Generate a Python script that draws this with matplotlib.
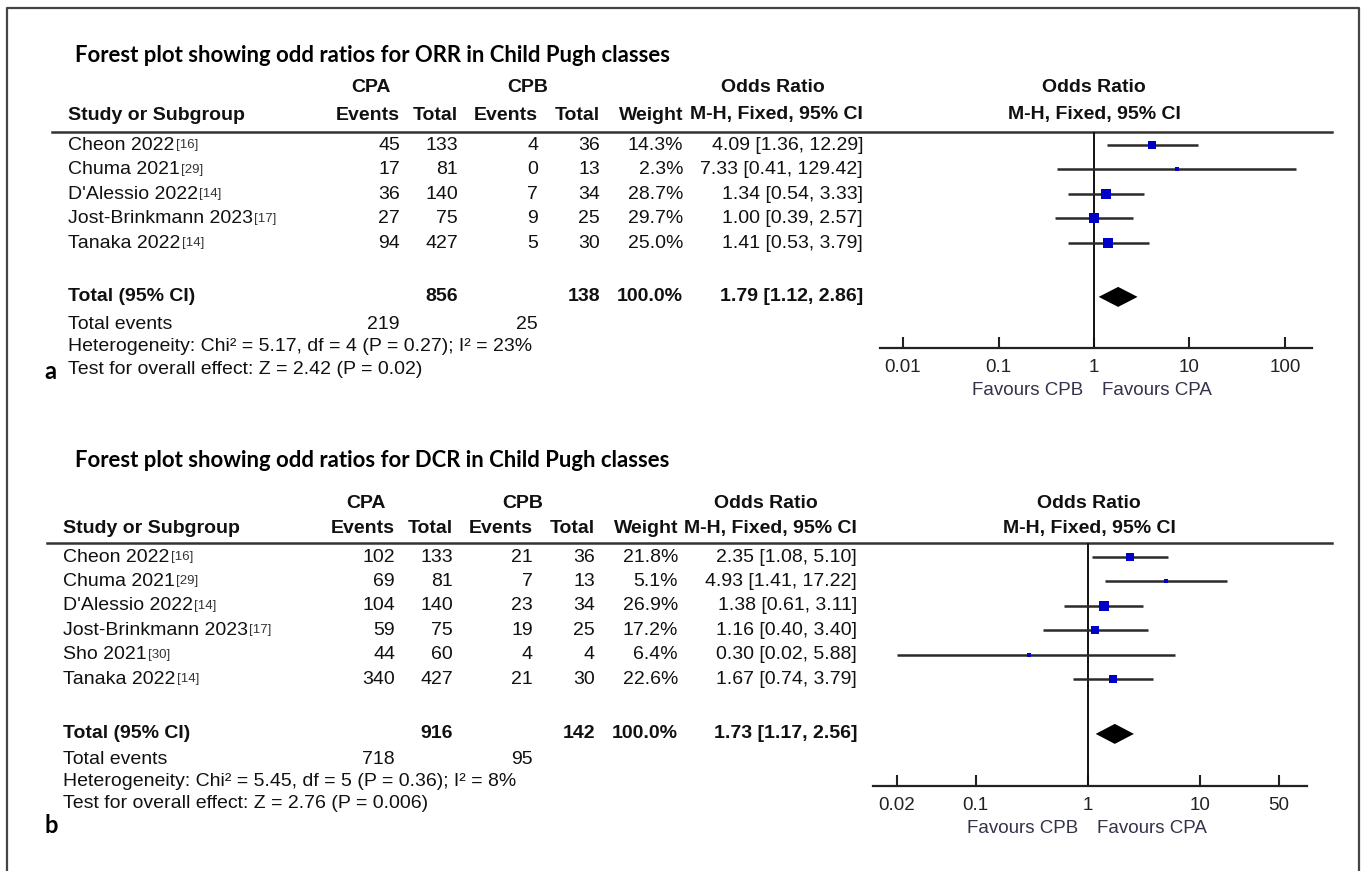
import numpy as np
import matplotlib
matplotlib.use('Agg')
import matplotlib.pyplot as plt
from matplotlib.ticker import NullLocator

W, H = 1365, 871
TXT = 'Liberation Sans'
TTL = 'Lato'

# ---------------- panel a : ORR ----------------
a_names = ['Cheon 2022', 'Chuma 2021', "D'Alessio 2022", 'Jost-Brinkmann 2023', 'Tanaka 2022']
a_refs = ['[16]', '[29]', '[14]', '[17]', '[14]']
a_cpa_ev = [45, 17, 36, 27, 94]
a_cpa_n = [133, 81, 140, 75, 427]
a_cpb_ev = [4, 0, 7, 9, 5]
a_cpb_n = [36, 13, 34, 25, 30]
a_weight = [14.3, 2.3, 28.7, 29.7, 25.0]
a_or = [4.09, 7.33, 1.34, 1.00, 1.41]
a_lo = [1.36, 0.41, 0.54, 0.39, 0.53]
a_hi = [12.29, 129.42, 3.33, 2.57, 3.79]
a_tot_n = [856, 138]
a_tot_ev = [219, 25]
a_pooled = [1.79, 1.12, 2.86]
a_het = 'Heterogeneity: Chi\u00b2 = 5.17, df = 4 (P = 0.27); I\u00b2 = 23%'
a_test = 'Test for overall effect: Z = 2.42 (P = 0.02)'
a_ticks = [0.01, 0.1, 1, 10, 100]
a_ticklabels = ['0.01', '0.1', '1', '10', '100']

# ---------------- panel b : DCR ----------------
b_names = ['Cheon 2022', 'Chuma 2021', "D'Alessio 2022", 'Jost-Brinkmann 2023', 'Sho 2021', 'Tanaka 2022']
b_refs = ['[16]', '[29]', '[14]', '[17]', '[30]', '[14]']
b_cpa_ev = [102, 69, 104, 59, 44, 340]
b_cpa_n = [133, 81, 140, 75, 60, 427]
b_cpb_ev = [21, 7, 23, 19, 4, 21]
b_cpb_n = [36, 13, 34, 25, 4, 30]
b_weight = [21.8, 5.1, 26.9, 17.2, 6.4, 22.6]
b_or = [2.35, 4.93, 1.38, 1.16, 0.30, 1.67]
b_lo = [1.08, 1.41, 0.61, 0.40, 0.02, 0.74]
b_hi = [5.10, 17.22, 3.11, 3.40, 5.88, 3.79]
b_tot_n = [916, 142]
b_tot_ev = [718, 95]
b_pooled = [1.73, 1.17, 2.56]
b_het = 'Heterogeneity: Chi\u00b2 = 5.45, df = 5 (P = 0.36); I\u00b2 = 8%'
b_test = 'Test for overall effect: Z = 2.76 (P = 0.006)'
b_ticks = [0.02, 0.1, 1, 10, 50]
b_ticklabels = ['0.02', '0.1', '1', '10', '50']

fig = plt.figure(figsize=(W / 100, H / 100), dpi=100)
bg = fig.add_axes([0, 0, 1, 1])
bg.set_xlim(0, W)
bg.set_ylim(H, 0)
bg.axis('off')

# outer frame
bg.plot([7, 7, 1359, 1359], [871, 8, 8, 871], color='#444444', lw=1.6)

FS = 14


def panel(title, letter, names, refs, ev1, n1, ev2, n2, weight, est, lo, hi,
          tot_n, tot_ev, pooled, het, test, ticks, ticklabels,
          top, row0, dy, total_row, dx, box, lg, sq, or_right, or_center):
    # box = (x0, x1, y_top, y_axis) in pixels; lg = (log10 left, log10 right)
    t_y = lambda r: row0 + r * dy
    bg.text(75, top, title, fontsize=15.9, fontweight='bold', family=TTL, va='center')
    h1 = top + 33 if letter == 'a' else top + 43
    h2 = h1 + 27 if letter == 'a' else h1 + 25
    kw = dict(fontsize=FS, family=TXT, va='center', color='#111111')
    bw = dict(kw, fontweight='bold')
    bg.text(371 + dx, h1, 'CPA', ha='center', **bw)
    bg.text(528 + dx, h1, 'CPB', ha='center', **bw)
    bg.text(or_center, h1, 'Odds Ratio', ha='center', **bw)
    bg.text(1094 + dx, h1, 'Odds Ratio', ha='center', **bw)
    bg.text(68 + dx, h2, 'Study or Subgroup', ha='left', **bw)
    cols = [400 + dx, 458 + dx, 538 + dx, 600 + dx, 683 + dx]
    for x, s in zip(cols, ['Events', 'Total', 'Events', 'Total', 'Weight']):
        bg.text(x, h2, s, ha='right', **bw)
    bg.text(or_right, h2, 'M-H, Fixed, 95% CI', ha='right', **bw)
    bg.text(1094 + dx, h2, 'M-H, Fixed, 95% CI', ha='center', **bw)
    line_y = box[2]
    bg.plot([52 + dx, 1332], [line_y, line_y], color='#333333', lw=1.8)

    for i in range(len(names)):
        y = t_y(i)
        t = bg.text(68 + dx, y, names[i], ha='left', **kw)
        bg.annotate(refs[i], xy=(1, 0.5), xycoords=t, xytext=(1, 0),
                    textcoords='offset points', va='center', ha='left',
                    fontsize=9.5, family=TXT, color='#333333')
        vals = [str(ev1[i]), str(n1[i]), str(ev2[i]), str(n2[i]), '%.1f%%' % weight[i]]
        for x, s in zip(cols, vals):
            bg.text(x, y, s, ha='right', **kw)
        bg.text(or_right, y, '%.2f [%.2f, %.2f]' % (est[i], lo[i], hi[i]), ha='right', **kw)

    y = t_y(total_row)
    bg.text(68 + dx, y, 'Total (95% CI)', ha='left', **bw)
    bg.text(cols[1], y, str(tot_n[0]), ha='right', **bw)
    bg.text(cols[3], y, str(tot_n[1]), ha='right', **bw)
    bg.text(cols[4], y, '100.0%', ha='right', **bw)
    bg.text(or_right, y, '%.2f [%.2f, %.2f]' % tuple(pooled), ha='right', **bw)

    ye = y + 28 if letter == 'a' else y + 26
    bg.text(68 + dx, ye, 'Total events', ha='left', **kw)
    bg.text(cols[0], ye, str(tot_ev[0]), ha='right', **kw)
    bg.text(cols[2], ye, str(tot_ev[1]), ha='right', **kw)
    bg.text(68 + dx, ye + 22, het, ha='left', **kw)
    bg.text(68 + dx, ye + 45 if letter == 'a' else ye + 44, test, ha='left', **kw)
    bg.text(44, ye + 47 if letter == 'a' else ye + 66, letter, ha='left', va='center',
            fontsize=17, fontweight='bold', family=TTL)

    # forest plot
    x0, x1, ytop, yax = box
    fax = fig.add_axes([x0 / W, 1 - yax / H, (x1 - x0) / W, (yax - ytop) / H])
    fax.patch.set_alpha(0)
    fax.set_xscale('log')
    fax.set_xlim(10 ** lg[0], 10 ** lg[1])
    fax.set_ylim((yax - row0) / dy, (ytop - row0) / dy)
    for s in ['left', 'right', 'top']:
        fax.spines[s].set_visible(False)
    fax.spines['bottom'].set_linewidth(1.6)
    fax.spines['bottom'].set_color('#222222')
    fax.set_yticks([])
    fax.set_xticks(ticks)
    fax.set_xticklabels(ticklabels)
    fax.xaxis.set_minor_locator(NullLocator())
    fax.tick_params(axis='x', direction='in', length=8, width=1.5, pad=8,
                    labelsize=13.5, colors='#222222')
    for lab in fax.get_xticklabels():
        lab.set_family(TXT)
    fax.axvline(1, color='#111111', lw=1.4)
    rows = np.arange(len(names))
    fax.hlines(rows, lo, hi, color='#2a2a2a', lw=1.8)
    for r, e, w in zip(rows, est, weight):
        fax.plot(e, r, 's', color='#0000c8', markeredgewidth=0,
                 markersize=sq * np.sqrt(w) * 0.72)
    hh = 10 / dy
    fax.fill([pooled[1], pooled[0], pooled[2], pooled[0]],
             [total_row, total_row - hh, total_row, total_row + hh], color='black', lw=0)
    yf = yax + 42
    bg.text(1083 + dx, yf, 'Favours CPB', ha='right', va='center', fontsize=13.5,
            family=TXT, color='#33334a')
    bg.text(1102 + dx, yf, 'Favours CPA', ha='left', va='center', fontsize=13.5,
            family=TXT, color='#33334a')


panel('Forest plot showing odd ratios for ORR in Child Pugh classes', 'a',
      a_names, a_refs, a_cpa_ev, a_cpa_n, a_cpb_ev, a_cpb_n, a_weight, a_or, a_lo, a_hi,
      a_tot_n, a_tot_ev, a_pooled, a_het, a_test, a_ticks, a_ticklabels,
      top=55, row0=145, dy=24.5, total_row=6.2, dx=0,
      box=(880, 1312, 132, 348), lg=(-2.241, 2.283), sq=2.0, or_right=863, or_center=773)

panel('Forest plot showing odd ratios for DCR in Child Pugh classes', 'b',
      b_names, b_refs, b_cpa_ev, b_cpa_n, b_cpb_ev, b_cpb_n, b_weight, b_or, b_lo, b_hi,
      b_tot_n, b_tot_ev, b_pooled, b_het, b_test, b_ticks, b_ticklabels,
      top=460, row0=557, dy=24.4, total_row=7.25, dx=-5,
      box=(873, 1307, 543, 786), lg=(-1.913, 1.948), sq=1.8, or_right=857, or_center=766)

fig.savefig('out.png', dpi=100)
